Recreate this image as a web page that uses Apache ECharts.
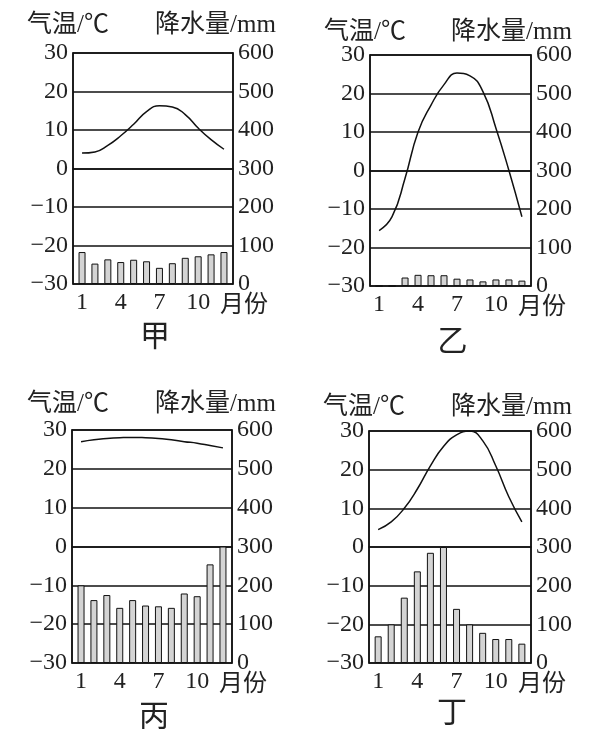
<!DOCTYPE html>
<html>
<head>
<meta charset="utf-8">
<script src="https://cdn.jsdelivr.net/npm/echarts@6/dist/echarts.min.js"></script>
<style>
html, body { margin: 0; padding: 0; background: #fff; }
#chart { width: 606px; height: 742px; }
</style>
</head>
<body>
<div id="chart"></div>
<script>
// month axis
var months = [1, 2, 3, 4, 5, 6, 7, 8, 9, 10, 11, 12];
var monthLabels = [1, 4, 7, 10];
var panelNames = ['甲', '乙', '丙', '丁'];

// 甲
var tempJia = [4, 4.3, 6, 8.5, 11.5, 14.8, 16.3, 16, 14, 10.5, 7.5, 5];
var precJia = [83, 53, 64, 57, 63, 59, 42, 54, 68, 72, 77, 83];
// 乙
var tempYi = [-15.6, -12, -2, 10, 17, 22.3, 25.3, 24.6, 20.5, 11, 0, -12];
var precYi = [0, 0, 22, 29, 28, 28, 19, 17, 12, 17, 17, 14];
// 丙
var tempBing = [27, 27.5, 27.8, 28, 28.1, 28, 27.8, 27.5, 27, 26.6, 26, 25.4];
var precBing = [200, 162, 175, 142, 162, 148, 146, 142, 179, 172, 254, 300];
// 丁
var tempDing = [4.5, 6.5, 10, 15, 21, 26, 29, 30, 27.5, 21, 13, 6.5];
var precDing = [69, 100, 169, 237, 285, 300, 140, 100, 78, 62, 62, 50];

var temps = [tempJia, tempYi, tempBing, tempDing];
var precs = [precJia, precYi, precBing, precDing];

var numFont = 'Liberation Serif, Noto Sans CJK SC';
var boxes = [
	{left: 73, top: 53, width: 160, height: 231},
	{left: 370, top: 55, width: 161, height: 231},
	{left: 72, top: 430, width: 160, height: 233},
	{left: 369, top: 431, width: 162, height: 232}
];
// x of left title, x of right title, y of title row
var titlePos = [[27, 155, 25], [324, 451, 32], [27, 155, 404], [323, 451, 407]];
var namePos = [338, 343, 718, 714];

var grids = [], xAxes = [], yAxes = [], series = [], texts = [];

boxes.forEach(function(b, i){
	grids.push({
		left: b.left, top: b.top, width: b.width, height: b.height,
		show: true, borderColor: '#111', borderWidth: 1.5, backgroundColor: 'transparent'
	});
	xAxes.push({
		type: 'value', gridIndex: i, min: 0.3, max: 12.7,
		axisLine: {show: true, lineStyle: {color: '#111', width: 1.5}},
		axisTick: {show: false},
		splitLine: {show: false},
		axisLabel: {customValues: monthLabels, color: '#222', fontFamily: numFont, fontSize: 24, margin: 7}
	});
	// temperature axis
	yAxes.push({
		type: 'value', gridIndex: i, min: -30, max: 30, interval: 10, position: 'left',
		axisLine: {show: true, lineStyle: {color: '#111', width: 1.5}},
		axisTick: {show: false},
		splitLine: {show: true, lineStyle: {color: '#111', width: 1.5}},
		axisLabel: {color: '#222', fontFamily: numFont, fontSize: 24, margin: 5,
			formatter: function(v){ return String(v).replace('-', '\u2212'); }}
	});
	// precipitation axis
	yAxes.push({
		type: 'value', gridIndex: i, min: 0, max: 600, interval: 100, position: 'right',
		axisLine: {show: true, lineStyle: {color: '#111', width: 1.5}},
		axisTick: {show: false},
		splitLine: {show: false},
		axisLabel: {color: '#222', fontFamily: numFont, fontSize: 24, margin: 5}
	});

	series.push({
		type: 'bar', xAxisIndex: i, yAxisIndex: i * 2 + 1,
		barWidth: 7,
		itemStyle: {color: '#d4d4d4', borderColor: '#111', borderWidth: 1},
		data: months.map(function(m, k){ return [m, precs[i][k]]; })
	});
	series.push({
		type: 'line', xAxisIndex: i, yAxisIndex: i * 2,
		smooth: true, showSymbol: false,
		lineStyle: {color: '#111', width: 1.5},
		data: months.map(function(m, k){ return [m, temps[i][k]]; })
	});

	var p = titlePos[i];
	texts.push({type: 'text', x: p[0], y: p[2],
		style: {text: '气温/℃', font: '25px ' + numFont, fill: '#222', verticalAlign: 'middle'}});
	texts.push({type: 'text', x: p[1], y: p[2],
		style: {text: '降水量/mm', font: '25px ' + numFont, fill: '#222', verticalAlign: 'middle'}});
	texts.push({type: 'text', x: b.left + b.width - 13, y: b.top + b.height + 22,
		style: {text: '月份', font: '24px ' + numFont, fill: '#222', verticalAlign: 'middle'}});
	texts.push({type: 'text', x: b.left + b.width / 2 + 2, y: namePos[i],
		style: {text: panelNames[i], font: '30px ' + numFont, fill: '#222', align: 'center', verticalAlign: 'middle'}});
});

var myChart = echarts.init(document.getElementById('chart'));
myChart.setOption({
	animation: false,
	backgroundColor: '#fff',
	grid: grids,
	xAxis: xAxes,
	yAxis: yAxes,
	series: series,
	graphic: texts
});
</script>
</body>
</html>
